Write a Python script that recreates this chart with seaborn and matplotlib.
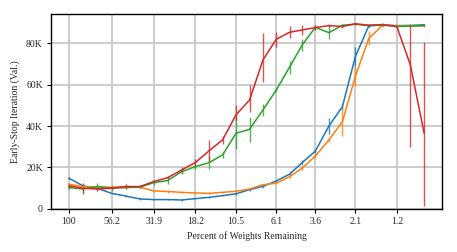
import numpy as np
import pandas as pd
import matplotlib
matplotlib.use("Agg")
import matplotlib.pyplot as plt
import seaborn as sns
from matplotlib.ticker import FuncFormatter, NullLocator

# percent of weights remaining at each pruning round
pct = [100, 82.6, 68.3, 56.2, 46.4, 38.4, 31.9, 26.4, 21.9, 18.2, 15.1, 12.6,
       10.5, 8.75, 7.3, 6.1, 5.1, 4.3, 3.6, 3.0, 2.5, 2.1, 1.75, 1.45, 1.2,
       1.0, 0.83]
tick_labels = ["100", "56.2", "31.9", "18.2", "10.5", "6.1", "3.6", "2.1", "1.2"]

# early-stop iteration (thousands), with lower / upper error extents
blue = [14.7, 11.0, 9.9, 7.4, 6.1, 4.7, 4.4, 4.4, 4.2, 4.85, 5.5, 6.3,
        7.2, 9.2, 10.8, 13.4, 16.7, 22.3, 27.9, 40.0, 49.4, 73.6, 88.6, 88.9,
        88.6, 88.7, 89.0]
blue_lo = [0.5, 0.5, 0.4, 0.4, 0.4, 0.3, 0.3, 0.3, 0.3, 0.3, 0.3, 0.4,
           0.4, 0.5, 0.6, 0.7, 0.9, 1.2, 1.0, 4.0, 1.5, 4.5, 0.6, 0.4,
           0.4, 0.4, 0.4]
blue_hi = blue_lo

orange = [11.8, 10.7, 10.4, 10.4, 10.7, 10.4, 8.6, 8.3, 7.9, 7.6, 7.4, 7.9,
          8.4, 9.5, 11.6, 12.3, 15.5, 19.6, 25.5, 33.3, 42.1, 64.0, 82.5, 88.9,
          88.5, 88.4, 88.4]
orange_lo = [0.6, 0.5, 0.4, 0.4, 0.4, 0.4, 0.4, 0.8, 0.4, 0.4, 0.5, 0.4,
             0.4, 0.4, 0.5, 0.5, 0.6, 0.8, 0.8, 1.0, 7.0, 4.5, 3.5, 0.5,
             0.4, 0.4, 0.4]
orange_hi = orange_lo

green = [10.2, 9.5, 10.7, 9.9, 10.2, 10.4, 12.6, 13.6, 17.9, 20.3, 22.3, 26.0,
         36.5, 38.4, 47.8, 57.5, 68.5, 79.3, 87.8, 85.2, 88.8, 89.3, 88.6, 88.9,
         88.2, 88.4, 88.7]
green_lo = [0.8, 2.2, 1.5, 1.5, 0.6, 0.6, 1.0, 1.5, 1.0, 1.0, 3.0, 1.5,
            7.7, 6.0, 3.0, 1.0, 3.2, 3.0, 1.0, 3.0, 0.8, 0.6, 0.5, 0.5,
            0.5, 0.5, 0.5]
green_hi = green_lo

red = [11.0, 9.9, 9.5, 9.9, 10.7, 10.7, 13.1, 15.0, 18.7, 22.3, 28.0, 33.3,
       45.4, 52.6, 72.0, 82.0, 85.4, 86.5, 87.7, 88.6, 88.2, 89.5, 88.8, 89.1,
       88.2, 69.6, 36.5]
red_lo = [0.8, 2.4, 1.0, 0.6, 1.0, 0.6, 0.8, 0.8, 1.5, 1.5, 5.0, 2.0,
          2.4, 5.6, 10.5, 3.7, 3.0, 2.5, 1.0, 0.8, 0.6, 0.6, 0.6, 0.6,
          0.8, 39.6, 35.2]
red_hi = [0.8, 2.4, 1.0, 0.6, 1.0, 0.6, 0.8, 0.8, 1.5, 1.5, 5.0, 2.0,
          4.8, 7.2, 13.2, 3.7, 3.0, 2.5, 1.0, 0.8, 0.6, 0.6, 0.6, 0.6,
          0.8, 19.7, 44.1]

series = {
    "blue": (blue, blue_lo, blue_hi, "#1f77b4"),
    "orange": (orange, orange_lo, orange_hi, "#ff7f0e"),
    "green": (green, green_lo, green_hi, "#2ca02c"),
    "red": (red, red_lo, red_hi, "#d62728"),
}

rows = []
for name, (vals, lo, hi, _) in series.items():
    for p, v, l, h in zip(pct, vals, lo, hi):
        rows.append({"pct": p, "iter": v * 1000, "lo": l * 1000,
                     "hi": h * 1000, "series": name})
df = pd.DataFrame(rows)

sns.set_style("white")
plt.rcParams.update({
    "font.family": ["Liberation Serif", "DejaVu Serif"],
    "font.size": 7,
    "axes.labelsize": 7,
})

fig = plt.figure(figsize=(4.57, 2.52), dpi=100)
ax = fig.add_axes([0.112, 0.172, 0.855, 0.7705])

palette = {k: v[3] for k, v in series.items()}
for name, (_, _, _, color) in series.items():
    d = df[df["series"] == name]
    ax.errorbar(d["pct"], d["iter"], yerr=[d["lo"], d["hi"]], fmt="none",
                ecolor=color, elinewidth=1.0, alpha=0.8, zorder=2)
sns.lineplot(data=df, x="pct", y="iter", hue="series", palette=palette,
             linewidth=1.1, legend=False, ax=ax, zorder=3)

ax.set_xscale("log")
span = pct[0] / pct[-1]
ax.set_xlim(pct[0] * span ** 0.05, pct[-1] / span ** 0.05)
ax.set_xticks(pct[::3])
ax.set_xticklabels(tick_labels)
ax.xaxis.set_minor_locator(NullLocator())
ax.set_ylim(0, 94000)
ax.set_yticks([0, 20000, 40000, 60000, 80000])
ax.yaxis.set_major_formatter(FuncFormatter(lambda v, _: "0" if v == 0 else f"{int(v/1000)}K"))

ax.grid(True, color="#c8c8c8", linewidth=1.3)
ax.set_axisbelow(True)
for s in ax.spines.values():
    s.set_color("black")
    s.set_linewidth(1.0)
ax.tick_params(axis="both", direction="out", length=3, width=0.8, color="black",
               labelsize=7, pad=3, bottom=True, left=True)

ax.set_xlabel("Percent of Weights Remaining")
ax.set_ylabel("Early-Stop Iteration (Val.)")

fig.savefig("out.png", dpi=100)
